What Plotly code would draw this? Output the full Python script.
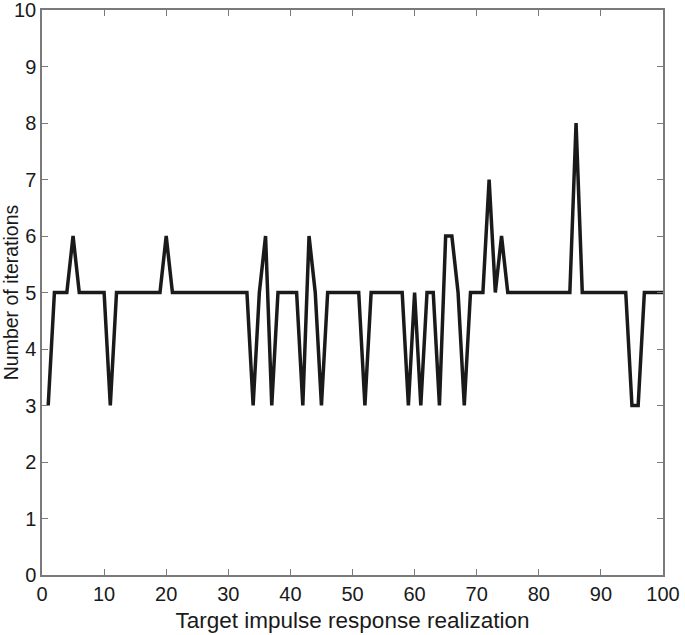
import plotly.graph_objects as go

realization = list(range(1, 101))
iterations = [
    3, 5, 5, 5, 6, 5, 5, 5, 5, 5,      # 1-10
    3, 5, 5, 5, 5, 5, 5, 5, 5, 6,      # 11-20
    5, 5, 5, 5, 5, 5, 5, 5, 5, 5,      # 21-30
    5, 5, 5, 3, 5, 6, 3, 5, 5, 5,      # 31-40
    5, 3, 6, 5, 3, 5, 5, 5, 5, 5,      # 41-50
    5, 3, 5, 5, 5, 5, 5, 5, 3, 5,      # 51-60
    3, 5, 5, 3, 6, 6, 5, 3, 5, 5,      # 61-70
    5, 7, 5, 6, 5, 5, 5, 5, 5, 5,      # 71-80
    5, 5, 5, 5, 5, 8, 5, 5, 5, 5,      # 81-90
    5, 5, 5, 5, 3, 3, 5, 5, 5, 5,      # 91-100
]
x_ticks = [0, 10, 20, 30, 40, 50, 60, 70, 80, 90, 100]
y_ticks = [0, 1, 2, 3, 4, 5, 6, 7, 8, 9, 10]

axis_color = "#7a7a7a"
font_family = "Liberation Sans, Arial, sans-serif"

fig = go.Figure()
fig.add_trace(go.Scatter(
    x=realization, y=iterations, mode="lines",
    line=dict(color="#1a1a1a", width=3.5),
    showlegend=False,
))

fig.update_layout(
    width=685, height=635,
    margin=dict(l=42, r=22, t=10, b=60),
    paper_bgcolor="white", plot_bgcolor="white",
    font=dict(family=font_family, color="#1a1a1a", size=20),
    xaxis=dict(
        range=[0, 100], tickvals=x_ticks, ticktext=[str(v) for v in x_ticks],
        showgrid=False, zeroline=False, automargin=False,
        showline=True, linecolor=axis_color, linewidth=1.5, mirror="ticks",
        ticks="inside", ticklen=6, tickcolor=axis_color, tickwidth=1.2,
        tickfont=dict(size=20), ticklabeloverflow="allow",
        title=dict(text="Target impulse response realization",
                   font=dict(size=22.5), standoff=8),
    ),
    yaxis=dict(
        range=[0, 10], tickvals=y_ticks, ticktext=[str(v) for v in y_ticks],
        showgrid=False, zeroline=False, automargin=False,
        showline=True, linecolor=axis_color, linewidth=1.5, mirror="ticks",
        ticks="inside", ticklen=6, tickcolor=axis_color, tickwidth=1.2,
        tickfont=dict(size=20), ticklabeloverflow="allow",
        title=dict(text="Number of iterations", font=dict(size=19.5), standoff=0),
    ),
)

fig.write_html(
    "out.html",
    config={"displayModeBar": False},
    post_script="document.body.style.margin = '0'; document.body.style.overflow = 'hidden';",
)
